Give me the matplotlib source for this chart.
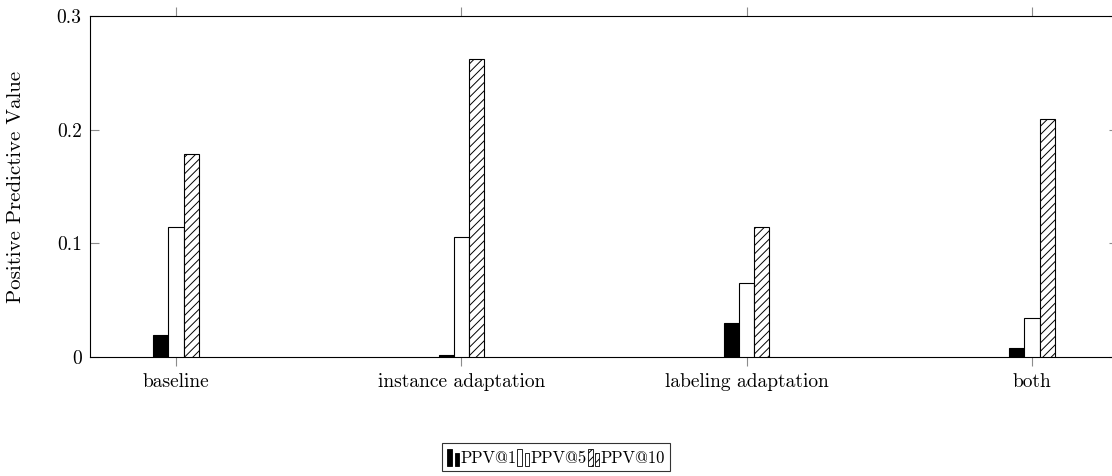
import matplotlib
matplotlib.use('Agg')
import matplotlib.pyplot as plt
import numpy as np
from matplotlib.patches import Rectangle
from matplotlib.legend_handler import HandlerBase

categories = ['baseline', 'instance adaptation', 'labeling adaptation', 'both']
ppv_at_1 = [0.019, 0.002, 0.030, 0.008]
ppv_at_5 = [0.114, 0.106, 0.065, 0.034]
ppv_at_10 = [0.179, 0.262, 0.114, 0.209]
series_labels = ['PPV@1', 'PPV@5', 'PPV@10']
y_ticks = [0, 0.1, 0.2, 0.3]
y_tick_labels = ['0', '0.1', '0.2', '0.3']

plt.rcParams['font.family'] = ['cmr10', 'DejaVu Serif']
plt.rcParams['mathtext.fontset'] = 'cm'
plt.rcParams['axes.unicode_minus'] = False
plt.rcParams['hatch.linewidth'] = 0.7
plt.rcParams['font.size'] = 14

W, H = 1112, 476
fig = plt.figure(figsize=(W / 100, H / 100), dpi=100)
ax = fig.add_axes([90 / W, 119 / H, 1028 / W, 341 / H])

x = np.arange(len(categories))
bw = 0.0526
styles = [
    dict(facecolor='black', edgecolor='black', hatch=None),
    dict(facecolor='white', edgecolor='black', hatch=None),
    dict(facecolor='white', edgecolor='black', hatch='////'),
]
series = [ppv_at_1, ppv_at_5, ppv_at_10]
offsets = [-bw, 0.0, bw]
for vals, off, st in zip(series, offsets, styles):
    ax.bar(x + off, vals, bw, linewidth=0.8, zorder=3, **st)

ax.set_xlim(-0.3014, 3.3014)
ax.set_ylim(0, 0.3)
ax.set_xticks(x, categories)
ax.set_yticks(y_ticks, y_tick_labels)
ax.tick_params(axis='x', direction='out', top=True, bottom=True, length=6.5,
               width=0.8, color='#8c8c8c', pad=5)
ax.tick_params(axis='y', direction='in', left=True, right=True, length=6.5,
               width=0.8, color='#8c8c8c', pad=6)
for sp in ax.spines.values():
    sp.set_linewidth(0.8)
    sp.set_color('black')

ax.set_ylabel('Positive Predictive Value', fontsize=15)
ax.yaxis.set_label_coords((25 - 90) / 1028, 0.5)


class TwoBarHandler(HandlerBase):
    def create_artists(self, legend, orig_handle, xdescent, ydescent,
                       width, height, fontsize, trans):
        fc = orig_handle.get_facecolor()
        hatch = orig_handle.get_hatch()
        arts = []
        for x0, w, h in [(0.0, 0.42, 0.9), (0.64, 0.34, 0.72)]:
            r = Rectangle((x0 * width - xdescent, 0.02 * height - ydescent),
                          w * width, h * height,
                          facecolor=fc, edgecolor='black', hatch=hatch,
                          linewidth=0.6, transform=trans)
            arts.append(r)
        return arts


proxies = [Rectangle((0, 0), 1, 1, **st) for st in styles]
leg = fig.legend(proxies, series_labels, loc='center', bbox_to_anchor=(0.5, 19 / H),
                 ncol=3, frameon=True, fancybox=False, edgecolor='black',
                 handler_map={Rectangle: TwoBarHandler()}, fontsize=12,
                 handlelength=0.72, handleheight=1.35, handletextpad=0.06,
                 columnspacing=0.06, borderpad=0.28, borderaxespad=0)
leg.get_frame().set_linewidth(0.8)

fig.savefig('out.png', dpi=100)
